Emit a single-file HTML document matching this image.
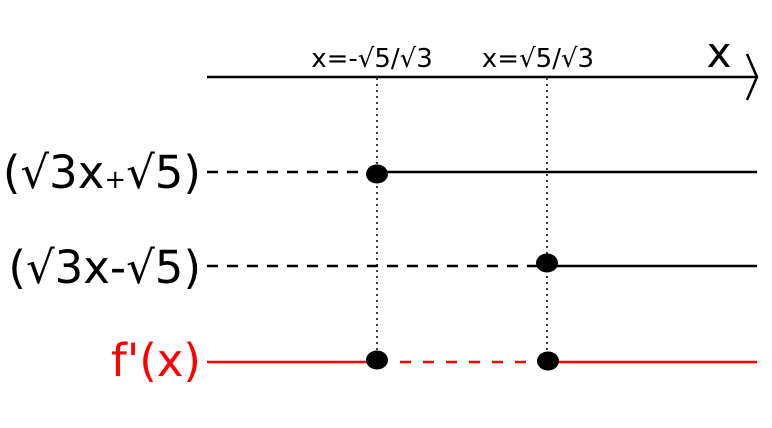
<!DOCTYPE html>
<html><head><meta charset="utf-8"><style>
html,body{margin:0;padding:0;background:#fff;width:772px;height:428px;overflow:hidden}
svg{display:block}
text{font-family:"DejaVu Sans","Liberation Sans",sans-serif}
</style></head><body>
<svg width="772" height="428" viewBox="0 0 772 428" xmlns="http://www.w3.org/2000/svg">
<line x1="207" y1="77" x2="757" y2="77" stroke="#000" stroke-width="2.5"/>
<polyline points="747,54 757,77 747,100" fill="none" stroke="#000" stroke-width="2.5"/>
<line x1="377" y1="78" x2="377" y2="360" stroke="#000" stroke-width="1.5" stroke-dasharray="2,4"/>
<line x1="547" y1="78" x2="547" y2="360" stroke="#000" stroke-width="1.5" stroke-dasharray="2,4"/>
<text x="372" y="67" font-size="26" text-anchor="middle">x=-√5/√3</text>
<text x="538" y="67" font-size="26" text-anchor="middle">x=√5/√3</text>
<text x="719" y="67" font-size="42" text-anchor="middle">x</text>
<!-- row1 -->
<line x1="207" y1="172" x2="370" y2="172" stroke="#000" stroke-width="2.5" stroke-dasharray="11,9"/>
<line x1="378" y1="172" x2="757" y2="172" stroke="#000" stroke-width="2.5"/>
<ellipse cx="377" cy="174" rx="11" ry="9.5" fill="#000"/>
<text x="201" y="188" font-size="45" text-anchor="end">(√3x<tspan font-size="26">+</tspan>√5)</text>
<!-- row2 -->
<line x1="207" y1="266" x2="540" y2="266" stroke="#000" stroke-width="2.5" stroke-dasharray="11,9"/>
<line x1="547" y1="266" x2="757" y2="266" stroke="#000" stroke-width="2.5"/>
<ellipse cx="547" cy="263" rx="11" ry="9.5" fill="#000"/>
<text x="201" y="283" font-size="45" text-anchor="end">(√3x-√5)</text>
<!-- row3 -->
<line x1="207" y1="362" x2="377" y2="362" stroke="#f00" stroke-width="2.5"/>
<line x1="400" y1="362" x2="540" y2="362" stroke="#f00" stroke-width="2.5" stroke-dasharray="11,12"/>
<line x1="548" y1="362" x2="757" y2="362" stroke="#f00" stroke-width="2.5"/>
<ellipse cx="377" cy="360" rx="11" ry="9.5" fill="#000"/>
<ellipse cx="548" cy="361" rx="11" ry="9.5" fill="#000"/>
<text x="201" y="376" font-size="45" text-anchor="end" fill="#f00">f'(x)</text>
</svg>
</body></html>
